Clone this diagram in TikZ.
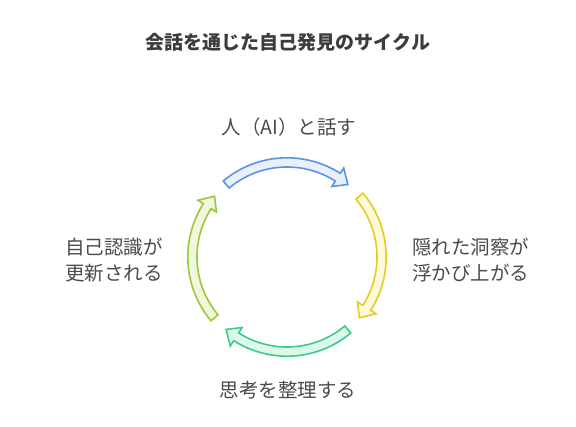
\documentclass[tikz,border=0pt]{standalone}
\usepackage{fontspec}
\setmainfont{Noto Sans CJK JP}

\definecolor{bluedraw}{HTML}{5B93E6}
\definecolor{bluefill}{HTML}{E8F0FC}
\definecolor{yellowdraw}{HTML}{E3CD1E}
\definecolor{yellowfill}{HTML}{FFFADC}
\definecolor{greendraw}{HTML}{3DCB8A}
\definecolor{greenfill}{HTML}{DFF8EC}
\definecolor{limedraw}{HTML}{9DC63C}
\definecolor{limefill}{HTML}{EFF8DD}
\definecolor{textgray}{HTML}{4A4A4A}
\definecolor{titlegray}{HTML}{3C3C3C}

\tikzset{
  cyclearrow/.style={line width=1.6pt, line join=miter},
  cycletext/.style={text=textgray, font=\fontsize{19.5}{26}\selectfont, align=left},
}

\begin{document}
\begin{tikzpicture}[x=40pt, y=40pt, every node/.style={inner sep=0pt}]
    % image from (0,0) to (14.4,10.65), 1 unit = 40px
    \useasboundingbox (0,0) rectangle (14.4,10.65);

    % Title
    \node[text=titlegray, font=\fontsize{19}{22}\selectfont\bfseries] (title) at (7.2,9.6) {会話を通じた自己発見のサイクル};

    % Arrows of the cycle, clockwise, 80 degrees each
    \begin{scope}[shift={(7.175,4.225)}]
        \foreach \s/\col in {130/blue, 40/yellow, -50/green, -140/lime} {
            \pgfmathsetmacro\e{\s-80}
            \pgfmathsetmacro\b{\e+7.5}
            \draw[cyclearrow, draw=\col draw, fill=\col fill]
                (\s:2.48) arc[start angle=\s, end angle=\b, radius=2.48]
                -- (\b:2.64) -- (\e:2.365) -- (\b:2.09) -- (\b:2.25)
                arc[start angle=\b, end angle=\s, radius=2.25] -- cycle;
        }
    \end{scope}

    % Labels
    \node[cycletext] (talk) at (7.225,7.475) {人（AI）と話す};
    \node[cycletext, anchor=west] (insight) at (10.3,4.15) {隠れた洞察が\\浮かび上がる};
    \node[cycletext] (sort) at (7.2,0.9) {思考を整理する};
    \node[cycletext, anchor=east, align=right] (update) at (4.075,4.15) {自己認識が\\更新される};
\end{tikzpicture}
\end{document}
